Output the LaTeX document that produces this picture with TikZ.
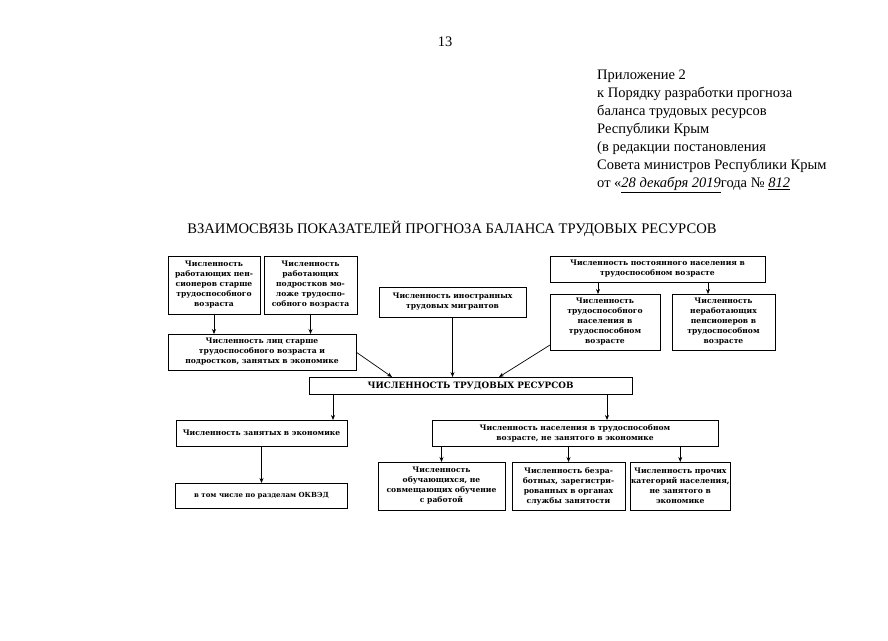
\documentclass[tikz,border=0pt]{standalone}
\usepackage{fontspec}
\setmainfont{Liberation Serif}
\newfontfamily\boxfont{DejaVu Serif}
\usetikzlibrary{arrows.meta,positioning}

\tikzset{
  box/.style={draw, line width=0.8pt, align=center, inner sep=1pt, outer sep=0pt,
    font=\boxfont\bfseries\fontsize{7.6}{10}\selectfont},
  link/.style={-{Stealth[length=5pt,width=4pt]}, line width=0.7pt},
}

\begin{document}
\begin{tikzpicture}[x=1pt, y=-1pt]
    \useasboundingbox (0,0) rectangle (888,640);

    % header
    \node (page) at (445,42) {\fontsize{14.5}{16}\selectfont 13};
    \node (annex) [anchor=north west, inner sep=0pt, align=left,
      font=\fontsize{14.5}{18}\selectfont] at (597,70)
      {Приложение 2\\к Порядку разработки прогноза\\баланса трудовых ресурсов\\Республики Крым\\(в редакции постановления\\Совета министров Республики Крым\\от «\underline{\textit{28 декабря 2019}}года № \underline{\textit{812}}};
    \node (title) at (452,229) [font=\fontsize{14.6}{16}\selectfont]
      {ВЗАИМОСВЯЗЬ ПОКАЗАТЕЛЕЙ ПРОГНОЗА БАЛАНСА ТРУДОВЫХ РЕСУРСОВ};

    % top row
    \node (pens) [box, minimum width=92pt, minimum height=58pt] at (214,285)
      {Численность\\работающих пен-\\сионеров старше\\трудоспособного\\возраста};
    \node (teen) [box, minimum width=93pt, minimum height=58pt, right=4pt of pens]
      {Численность\\работающих\\подростков мо-\\ложе трудоспо-\\собного возраста};
    \node (elder) [box, minimum width=188pt, minimum height=36pt,
      below=20pt of pens.south west, anchor=north west]
      {Численность лиц старше\\трудоспособного возраста и\\подростков, занятых в экономике};
    \node (migr) [box, minimum width=147pt, minimum height=30pt] at (452.5,302)
      {Численность иностранных\\трудовых мигрантов};
    \node (perm) [box, minimum width=215pt, minimum height=26pt] at (657.5,269)
      {Численность постоянного населения в\\трудоспособном возрасте};
    \node (able) [box, minimum width=110pt, minimum height=56pt,
      below=12pt of perm.south west, anchor=north west]
      {Численность\\трудоспособного\\населения в\\трудоспособном\\возрасте};
    \node (idle) [box, minimum width=103pt, minimum height=56pt, right=12pt of able]
      {Численность\\неработающих\\пенсионеров в\\трудоспособном\\возрасте};

    % middle
    \node (res) [box, minimum width=323pt, minimum height=17pt,
      font=\boxfont\bfseries\fontsize{8.8}{10}\selectfont] at (470.5,385.5)
      {ЧИСЛЕННОСТЬ ТРУДОВЫХ РЕСУРСОВ};

    % bottom rows
    \node (empl) [box, minimum width=171pt, minimum height=26pt] at (261.5,433)
      {Численность занятых в экономике};
    \node (okved) [box, minimum width=172pt, minimum height=25pt, below=37pt of empl,
      font=\boxfont\bfseries\fontsize{7}{9}\selectfont]
      {в том числе по разделам ОКВЭД};
    \node (unemp) [box, minimum width=286pt, minimum height=26pt] at (575,433)
      {Численность населения в трудоспособном\\возрасте, не занятого в экономике};
    \node (study) [box, minimum width=127pt, minimum height=48pt] at (441.5,486)
      {Численность\\обучающихся, не\\совмещающих обучение\\с работой};
    \node (jobless) [box, minimum width=113pt, minimum height=48pt, right=7pt of study]
      {Численность безра-\\ботных, зарегистри-\\рованных в органах\\службы занятости};
    \node (other) [box, minimum width=88pt, minimum height=48pt, right=5pt of jobless]
      {Численность прочих\\категорий населения,\\не занятого в\\экономике};

    % connectors
    \coordinate (permL) at ([xshift=-59.5pt]perm.south);
    \coordinate (permR) at ([xshift=50.5pt]perm.south);
    \coordinate (resL) at ([xshift=24pt]res.south west);
    \coordinate (resR) at ([xshift=-25pt]res.south east);

    \draw[link] (pens) -- (pens |- elder.north);
    \draw[link] (teen) -- (teen |- elder.north);
    \draw[link] (permL) -- (permL |- able.north);
    \draw[link] (permR) -- (permR |- idle.north);
    \draw[link] (elder.east) -- ([xshift=83pt]res.north west);
    \draw[link] (migr) -- (migr |- res.north);
    \draw[link] ([yshift=5pt]able.south west) -- ([xshift=190pt]res.north west);
    \draw[link] (resL) -- (resL |- empl.north);
    \draw[link] (resR) -- (resR |- unemp.north);
    \draw[link] (empl) -- (okved);
    \draw[link] (study.north |- unemp.south) -- (study.north);
    \draw[link] (jobless.north |- unemp.south) -- (jobless.north);
    \draw[link] (other.north |- unemp.south) -- (other.north);
\end{tikzpicture}
\end{document}
